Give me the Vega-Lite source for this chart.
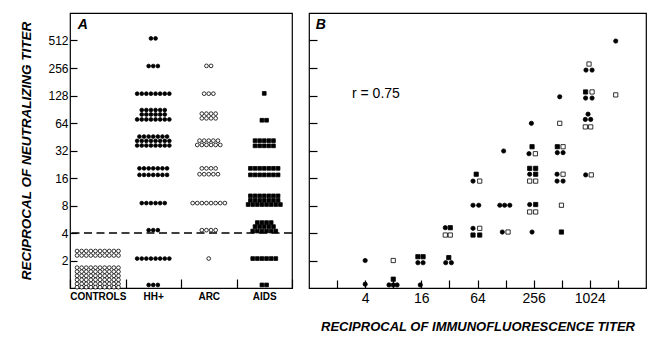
{
  "$schema": "https://vega.github.io/schema/vega-lite/v6.json",
  "padding": {"left": 19, "top": 12, "right": 2, "bottom": 2},
  "spacing": 13,
  "config": {
    "font": "Liberation Sans",
    "view": {"stroke": "black", "strokeWidth": 1.2},
    "axis": {"labelColor": "black", "titleColor": "black", "tickColor": "black", "labelFont": "Liberation Sans", "titleFont": "Liberation Sans", "grid": false, "domain": false, "tickWidth": 1.2}
  },
  "resolve": {"scale": {"x": "independent", "y": "independent", "shape": "independent", "fill": "independent"}},
  "hconcat": [
    {
      "width": 222,
      "height": 275,
      "layer": [
        {
          "data": {"values": [
            {"g":"CONTROLS","t":2.54},{"g":"CONTROLS","t":2.54},{"g":"CONTROLS","t":2.54},{"g":"CONTROLS","t":2.54},{"g":"CONTROLS","t":2.54},{"g":"CONTROLS","t":2.54},{"g":"CONTROLS","t":2.54},{"g":"CONTROLS","t":2.54},{"g":"CONTROLS","t":2.54},{"g":"CONTROLS","t":2.54},
            {"g":"CONTROLS","t":2.27},{"g":"CONTROLS","t":2.27},{"g":"CONTROLS","t":2.27},{"g":"CONTROLS","t":2.27},{"g":"CONTROLS","t":2.27},{"g":"CONTROLS","t":2.27},{"g":"CONTROLS","t":2.27},{"g":"CONTROLS","t":2.27},{"g":"CONTROLS","t":2.27},{"g":"CONTROLS","t":2.27},
            {"g":"CONTROLS","t":1.67},{"g":"CONTROLS","t":1.67},{"g":"CONTROLS","t":1.67},{"g":"CONTROLS","t":1.67},{"g":"CONTROLS","t":1.67},{"g":"CONTROLS","t":1.67},{"g":"CONTROLS","t":1.67},{"g":"CONTROLS","t":1.67},{"g":"CONTROLS","t":1.67},{"g":"CONTROLS","t":1.67},
            {"g":"CONTROLS","t":1.51},{"g":"CONTROLS","t":1.51},{"g":"CONTROLS","t":1.51},{"g":"CONTROLS","t":1.51},{"g":"CONTROLS","t":1.51},{"g":"CONTROLS","t":1.51},{"g":"CONTROLS","t":1.51},{"g":"CONTROLS","t":1.51},{"g":"CONTROLS","t":1.51},{"g":"CONTROLS","t":1.51},
            {"g":"CONTROLS","t":1.36},{"g":"CONTROLS","t":1.36},{"g":"CONTROLS","t":1.36},{"g":"CONTROLS","t":1.36},{"g":"CONTROLS","t":1.36},{"g":"CONTROLS","t":1.36},{"g":"CONTROLS","t":1.36},{"g":"CONTROLS","t":1.36},{"g":"CONTROLS","t":1.36},{"g":"CONTROLS","t":1.36},
            {"g":"CONTROLS","t":1.23},{"g":"CONTROLS","t":1.23},{"g":"CONTROLS","t":1.23},{"g":"CONTROLS","t":1.23},{"g":"CONTROLS","t":1.23},{"g":"CONTROLS","t":1.23},{"g":"CONTROLS","t":1.23},{"g":"CONTROLS","t":1.23},{"g":"CONTROLS","t":1.23},{"g":"CONTROLS","t":1.23},
            {"g":"CONTROLS","t":1.11},{"g":"CONTROLS","t":1.11},{"g":"CONTROLS","t":1.11},{"g":"CONTROLS","t":1.11},{"g":"CONTROLS","t":1.11},{"g":"CONTROLS","t":1.11},{"g":"CONTROLS","t":1.11},{"g":"CONTROLS","t":1.11},{"g":"CONTROLS","t":1.11},{"g":"CONTROLS","t":1.11},
            {"g":"CONTROLS","t":1.02},{"g":"CONTROLS","t":1.02},{"g":"CONTROLS","t":1.02},{"g":"CONTROLS","t":1.02},{"g":"CONTROLS","t":1.02},{"g":"CONTROLS","t":1.02},{"g":"CONTROLS","t":1.02},{"g":"CONTROLS","t":1.02},{"g":"CONTROLS","t":1.02},{"g":"CONTROLS","t":1.02},
            {"g":"HH+","t":540},{"g":"HH+","t":540},
            {"g":"HH+","t":269},{"g":"HH+","t":269},{"g":"HH+","t":269},
            {"g":"HH+","t":134},{"g":"HH+","t":134},{"g":"HH+","t":134},{"g":"HH+","t":134},{"g":"HH+","t":134},{"g":"HH+","t":134},{"g":"HH+","t":134},{"g":"HH+","t":134},
            {"g":"HH+","t":88.8},{"g":"HH+","t":88.8},{"g":"HH+","t":88.8},{"g":"HH+","t":88.8},{"g":"HH+","t":88.8},{"g":"HH+","t":88.8},
            {"g":"HH+","t":79.3},{"g":"HH+","t":79.3},{"g":"HH+","t":79.3},{"g":"HH+","t":79.3},{"g":"HH+","t":79.3},{"g":"HH+","t":79.3},
            {"g":"HH+","t":70},{"g":"HH+","t":70},{"g":"HH+","t":70},{"g":"HH+","t":70},{"g":"HH+","t":70},{"g":"HH+","t":70},{"g":"HH+","t":70},{"g":"HH+","t":70},
            {"g":"HH+","t":45.5},{"g":"HH+","t":45.5},{"g":"HH+","t":45.5},{"g":"HH+","t":45.5},{"g":"HH+","t":45.5},{"g":"HH+","t":45.5},{"g":"HH+","t":45.5},
            {"g":"HH+","t":40.8},{"g":"HH+","t":40.8},{"g":"HH+","t":40.8},{"g":"HH+","t":40.8},{"g":"HH+","t":40.8},{"g":"HH+","t":40.8},{"g":"HH+","t":40.8},{"g":"HH+","t":40.8},
            {"g":"HH+","t":36.3},{"g":"HH+","t":36.3},{"g":"HH+","t":36.3},{"g":"HH+","t":36.3},{"g":"HH+","t":36.3},{"g":"HH+","t":36.3},{"g":"HH+","t":36.3},{"g":"HH+","t":36.3},
            {"g":"HH+","t":20.4},{"g":"HH+","t":20.4},{"g":"HH+","t":20.4},{"g":"HH+","t":20.4},{"g":"HH+","t":20.4},{"g":"HH+","t":20.4},{"g":"HH+","t":20.4},
            {"g":"HH+","t":17.3},{"g":"HH+","t":17.3},{"g":"HH+","t":17.3},{"g":"HH+","t":17.3},{"g":"HH+","t":17.3},{"g":"HH+","t":17.3},{"g":"HH+","t":17.3},
            {"g":"HH+","t":8.5},{"g":"HH+","t":8.5},{"g":"HH+","t":8.5},{"g":"HH+","t":8.5},{"g":"HH+","t":8.5},{"g":"HH+","t":8.5},
            {"g":"HH+","t":4.3},{"g":"HH+","t":4.3},{"g":"HH+","t":4.3},
            {"g":"HH+","t":2.1},{"g":"HH+","t":2.1},{"g":"HH+","t":2.1},{"g":"HH+","t":2.1},{"g":"HH+","t":2.1},{"g":"HH+","t":2.1},{"g":"HH+","t":2.1},{"g":"HH+","t":2.1},
            {"g":"HH+","t":1.08},{"g":"HH+","t":1.08},{"g":"HH+","t":1.08},
            {"g":"ARC","t":270},{"g":"ARC","t":270},
            {"g":"ARC","t":134},{"g":"ARC","t":134},{"g":"ARC","t":134},
            {"g":"ARC","t":81},{"g":"ARC","t":81},{"g":"ARC","t":81},{"g":"ARC","t":81},
            {"g":"ARC","t":72},{"g":"ARC","t":72},{"g":"ARC","t":72},{"g":"ARC","t":72},
            {"g":"ARC","t":41},{"g":"ARC","t":41},{"g":"ARC","t":41},{"g":"ARC","t":41},{"g":"ARC","t":41},
            {"g":"ARC","t":36.8},{"g":"ARC","t":36.8},{"g":"ARC","t":36.8},{"g":"ARC","t":36.8},{"g":"ARC","t":36.8},{"g":"ARC","t":36.8},
            {"g":"ARC","t":20.4},{"g":"ARC","t":20.4},{"g":"ARC","t":20.4},{"g":"ARC","t":20.4},
            {"g":"ARC","t":17.6},{"g":"ARC","t":17.6},{"g":"ARC","t":17.6},{"g":"ARC","t":17.6},{"g":"ARC","t":17.6},
            {"g":"ARC","t":8.5},{"g":"ARC","t":8.5},{"g":"ARC","t":8.5},{"g":"ARC","t":8.5},{"g":"ARC","t":8.5},{"g":"ARC","t":8.5},{"g":"ARC","t":8.5},{"g":"ARC","t":8.5},
            {"g":"ARC","t":4.3},{"g":"ARC","t":4.3},{"g":"ARC","t":4.3},{"g":"ARC","t":4.3},
            {"g":"ARC","t":2.1},
            {"g":"AIDS","t":135},
            {"g":"AIDS","t":68.6},{"g":"AIDS","t":68.6},
            {"g":"AIDS","t":41},{"g":"AIDS","t":41},{"g":"AIDS","t":41},{"g":"AIDS","t":41},{"g":"AIDS","t":41},
            {"g":"AIDS","t":36},{"g":"AIDS","t":36},{"g":"AIDS","t":36},{"g":"AIDS","t":36},{"g":"AIDS","t":36},
            {"g":"AIDS","t":20.4},{"g":"AIDS","t":20.4},{"g":"AIDS","t":20.4},{"g":"AIDS","t":20.4},{"g":"AIDS","t":20.4},{"g":"AIDS","t":20.4},{"g":"AIDS","t":20.4},
            {"g":"AIDS","t":17.3},{"g":"AIDS","t":17.3},{"g":"AIDS","t":17.3},{"g":"AIDS","t":17.3},{"g":"AIDS","t":17.3},{"g":"AIDS","t":17.3},{"g":"AIDS","t":17.3},
            {"g":"AIDS","t":10.2},{"g":"AIDS","t":10.2},{"g":"AIDS","t":10.2},{"g":"AIDS","t":10.2},{"g":"AIDS","t":10.2},{"g":"AIDS","t":10.2},{"g":"AIDS","t":10.2},
            {"g":"AIDS","t":9.1},{"g":"AIDS","t":9.1},{"g":"AIDS","t":9.1},{"g":"AIDS","t":9.1},{"g":"AIDS","t":9.1},{"g":"AIDS","t":9.1},{"g":"AIDS","t":9.1},
            {"g":"AIDS","t":8.2},{"g":"AIDS","t":8.2},{"g":"AIDS","t":8.2},{"g":"AIDS","t":8.2},{"g":"AIDS","t":8.2},{"g":"AIDS","t":8.2},{"g":"AIDS","t":8.2},{"g":"AIDS","t":8.2},
            {"g":"AIDS","t":5.2},{"g":"AIDS","t":5.2},{"g":"AIDS","t":5.2},{"g":"AIDS","t":5.2},
            {"g":"AIDS","t":4.7},{"g":"AIDS","t":4.7},{"g":"AIDS","t":4.7},{"g":"AIDS","t":4.7},{"g":"AIDS","t":4.7},
            {"g":"AIDS","t":4.2},{"g":"AIDS","t":4.2},{"g":"AIDS","t":4.2},{"g":"AIDS","t":4.2},{"g":"AIDS","t":4.2},{"g":"AIDS","t":4.2},
            {"g":"AIDS","t":2.1},{"g":"AIDS","t":2.1},{"g":"AIDS","t":2.1},{"g":"AIDS","t":2.1},{"g":"AIDS","t":2.1},{"g":"AIDS","t":2.1},
            {"g":"AIDS","t":1.08},{"g":"AIDS","t":1.08}
          ]},
          "transform": [
            {"window": [{"op": "count", "as": "one"}], "frame": [0, 0]},
            {"stack": "one", "groupby": ["g", "t"], "offset": "center", "as": ["s0", "s1"]}
          ],
          "mark": {"type": "point", "filled": true, "stroke": "black", "strokeWidth": 0.8, "size": 14, "opacity": 1},
          "encoding": {
            "x": {"field": "g", "type": "nominal", "sort": ["CONTROLS", "HH+", "ARC", "AIDS"],
              "scale": {"domain": ["CONTROLS", "HH+", "ARC", "AIDS"], "paddingInner": 0, "paddingOuter": 0},
              "axis": {"title": null, "tickBand": "extent", "tickSize": -9, "labelPadding": 12, "labelAngle": 0, "labelFontSize": 10, "labelFontWeight": "bold"}},
            "xOffset": {"field": "s0", "type": "quantitative", "scale": {"domain": [-1.53, 10.53], "range": [0, 55.5]}},
            "y": {"field": "t", "type": "quantitative",
              "scale": {"type": "log", "base": 2, "domain": [1, 1024], "nice": false},
              "axis": {"title": "RECIPROCAL OF NEUTRALIZING TITER", "values": [2, 4, 8, 16, 32, 64, 128, 256, 512], "format": "d", "tickSize": -7, "labelPadding": 9, "labelFontSize": 12, "titleFontSize": 13.5, "titleFontStyle": "italic", "titleFontWeight": "bold", "titlePadding": 14}},
            "shape": {"field": "g", "type": "nominal", "scale": {"domain": ["CONTROLS", "HH+", "ARC", "AIDS"], "range": ["circle", "circle", "circle", "square"]}, "legend": null},
            "fill": {"field": "g", "type": "nominal", "scale": {"domain": ["CONTROLS", "HH+", "ARC", "AIDS"], "range": ["white", "black", "white", "black"]}, "legend": null}
          }
        },
        {
          "data": {"values": [{"cut": 4}]},
          "mark": {"type": "rule", "strokeDash": [8, 4.5], "strokeWidth": 1.4, "color": "black"},
          "encoding": {"y": {"field": "cut", "type": "quantitative"}}
        },
        {
          "data": {"values": [{"label": "A", "g": "CONTROLS", "t": 757}]},
          "mark": {"type": "text", "fontSize": 14, "fontStyle": "italic", "fontWeight": "bold", "dx": -15, "color": "black"},
          "encoding": {"x": {"field": "g", "type": "nominal"}, "y": {"field": "t", "type": "quantitative"}, "text": {"field": "label"}}
        }
      ]
    },
    {
      "width": 337,
      "height": 275,
      "layer": [
        {
          "data": {"values": [
            {"x":1940,"y":505,"s":"HH+"},{"x":1004,"y":283,"s":"ARC"},{"x":931,"y":243,"s":"HH+"},{"x":1082,"y":243,"s":"HH+"},
            {"x":922,"y":140,"s":"AIDS"},{"x":1082,"y":140,"s":"ARC"},{"x":922,"y":120,"s":"HH+"},{"x":1082,"y":120,"s":"HH+"},
            {"x":1940,"y":130,"s":"ARC"},{"x":487,"y":124,"s":"HH+"},
            {"x":980,"y":80,"s":"HH+"},{"x":916,"y":70,"s":"HH+"},{"x":1046,"y":70,"s":"HH+"},{"x":916,"y":58,"s":"ARC"},{"x":1046,"y":58,"s":"ARC"},
            {"x":242,"y":63.5,"s":"HH+"},{"x":487,"y":63.5,"s":"ARC"},
            {"x":122,"y":31.6,"s":"HH+"},{"x":246,"y":35.2,"s":"AIDS"},{"x":228,"y":29.5,"s":"HH+"},{"x":267,"y":29.5,"s":"ARC"},
            {"x":459,"y":35.2,"s":"AIDS"},{"x":529,"y":35.2,"s":"ARC"},{"x":459,"y":30.3,"s":"HH+"},{"x":529,"y":30.3,"s":"HH+"},
            {"x":232,"y":20.4,"s":"AIDS"},{"x":269,"y":20.4,"s":"AIDS"},{"x":232,"y":17.6,"s":"HH+"},{"x":269,"y":17.6,"s":"AIDS"},{"x":232,"y":14.8,"s":"ARC"},{"x":269,"y":14.8,"s":"ARC"},
            {"x":456,"y":17.6,"s":"HH+"},{"x":529,"y":17.6,"s":"ARC"},{"x":456,"y":14.8,"s":"HH+"},{"x":529,"y":14.8,"s":"HH+"},
            {"x":62,"y":17.6,"s":"AIDS"},{"x":57.3,"y":14.8,"s":"HH+"},{"x":67.6,"y":14.8,"s":"ARC"},
            {"x":924,"y":17.3,"s":"HH+"},{"x":1061,"y":17.3,"s":"ARC"},
            {"x":57.3,"y":8.05,"s":"HH+"},{"x":66,"y":8.05,"s":"HH+"},{"x":111,"y":8.05,"s":"HH+"},{"x":125,"y":8.05,"s":"HH+"},{"x":142,"y":8.05,"s":"HH+"},
            {"x":232,"y":8.2,"s":"HH+"},{"x":269,"y":8.2,"s":"AIDS"},{"x":232,"y":6.8,"s":"ARC"},{"x":269,"y":6.8,"s":"ARC"},{"x":508,"y":8.05,"s":"ARC"},
            {"x":28.9,"y":4.57,"s":"HH+"},{"x":32.7,"y":4.57,"s":"AIDS"},{"x":28.9,"y":3.8,"s":"ARC"},{"x":32.7,"y":3.8,"s":"ARC"},
            {"x":57.3,"y":4.5,"s":"HH+"},{"x":67.6,"y":4.5,"s":"ARC"},{"x":57.3,"y":3.8,"s":"AIDS"},{"x":67.6,"y":3.8,"s":"AIDS"},
            {"x":118,"y":4.1,"s":"HH+"},{"x":136,"y":4.1,"s":"ARC"},{"x":246,"y":4.1,"s":"HH+"},{"x":508,"y":4.1,"s":"AIDS"},
            {"x":4,"y":2.0,"s":"HH+"},{"x":8,"y":2.0,"s":"ARC"},
            {"x":14.7,"y":2.2,"s":"AIDS"},{"x":16.7,"y":2.2,"s":"AIDS"},{"x":14.7,"y":1.89,"s":"HH+"},{"x":16.7,"y":1.89,"s":"HH+"},
            {"x":31.5,"y":2.15,"s":"AIDS"},{"x":29.2,"y":1.89,"s":"HH+"},{"x":33.6,"y":1.89,"s":"HH+"},
            {"x":4,"y":1.1,"s":"HH+"},{"x":8,"y":1.25,"s":"AIDS"},{"x":7.2,"y":1.08,"s":"HH+"},{"x":8,"y":1.08,"s":"HH+"},{"x":8.8,"y":1.08,"s":"HH+"},{"x":15.6,"y":1.08,"s":"HH+"}
          ]},
          "mark": {"type": "point", "filled": true, "stroke": "black", "strokeWidth": 0.8, "size": 18, "opacity": 1},
          "encoding": {
            "x": {"field": "x", "type": "quantitative",
              "scale": {"type": "log", "base": 2, "domain": [1, 4096], "nice": false},
              "axis": {"title": "RECIPROCAL OF IMMUNOFLUORESCENCE TITER", "values": [2, 4, 8, 16, 32, 64, 128, 256, 512, 1024, 2048], "format": "d",
                "labelExpr": "(datum.value == 4 || datum.value == 16 || datum.value == 64 || datum.value == 256 || datum.value == 1024) ? datum.label : ''",
                "tickSize": -8, "labelPadding": 11, "labelFontSize": 14, "labelFlush": false, "labelOverlap": false, "titleFontSize": 13, "titleFontStyle": "italic", "titleFontWeight": "bold", "titlePadding": 15}},
            "y": {"field": "y", "type": "quantitative",
              "scale": {"type": "log", "base": 2, "domain": [1, 1024], "nice": false},
              "axis": {"title": null, "values": [2, 4, 8, 16, 32, 64, 128, 256, 512], "labels": false, "tickSize": -8}},
            "shape": {"field": "s", "type": "nominal", "scale": {"domain": ["HH+", "ARC", "AIDS"], "range": ["circle", "square", "square"]}, "legend": null},
            "fill": {"field": "s", "type": "nominal", "scale": {"domain": ["HH+", "ARC", "AIDS"], "range": ["black", "white", "black"]}, "legend": null}
          }
        },
        {
          "data": {"values": [{"label": "B", "x": 1.34, "y": 757}]},
          "mark": {"type": "text", "fontSize": 14, "fontStyle": "italic", "fontWeight": "bold", "color": "black"},
          "encoding": {"x": {"field": "x", "type": "quantitative"}, "y": {"field": "y", "type": "quantitative"}, "text": {"field": "label"}}
        },
        {
          "data": {"values": [{"label": "r = 0.75", "x": 2.89, "y": 133}]},
          "mark": {"type": "text", "fontSize": 14, "align": "left", "color": "black"},
          "encoding": {"x": {"field": "x", "type": "quantitative"}, "y": {"field": "y", "type": "quantitative"}, "text": {"field": "label"}}
        }
      ]
    }
  ]
}
